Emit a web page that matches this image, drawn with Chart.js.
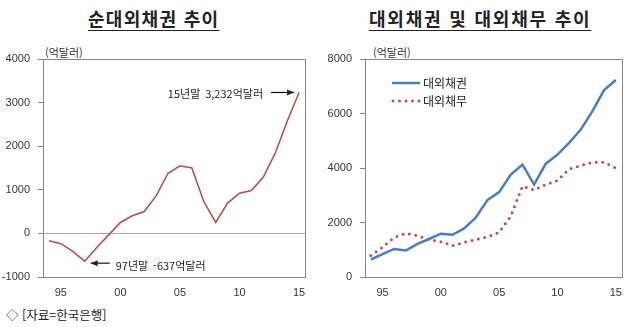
<!DOCTYPE html>
<html lang="ko">
<head>
<meta charset="utf-8">
<script src="https://cdn.jsdelivr.net/npm/chart.js@4"></script>
<style>
  body { margin: 0; width: 631px; height: 327px; background: #fff; position: relative; overflow: hidden;
         font-family: "Noto Sans CJK KR", "Noto Sans", sans-serif; color: #222; }
  .title { position: absolute; top: 5px; font-size: 18px; font-weight: bold; text-decoration: underline;
           text-underline-offset: 4px; text-decoration-thickness: 1px; letter-spacing: 1.3px; white-space: nowrap; }
  .unit { position: absolute; top: 44px; font-size: 11px; color: #333; }
  .box { position: absolute; top: 0; }
  #note { position: absolute; left: 6px; top: 305px; font-size: 12.5px; color: #222; }
</style>
</head>
<body>
<div class="title" style="left:88px;">순대외채권 추이</div>
<div class="title" style="left:369px; letter-spacing:1.8px;">대외채권 및 대외채무 추이</div>
<div class="unit" style="left:45px;">(억달러)</div>
<div class="unit" style="left:373px;">(억달러)</div>
<div class="box" style="left:0;"><canvas id="netChart" width="315" height="300"></canvas></div>
<div class="box" style="left:315px;"><canvas id="grossChart" width="316" height="300"></canvas></div>
<div id="note">◇ [자료=한국은행]</div>

<script>
// years 1994 ~ 2015
const years = ["94", "95", "96", "97", "98", "99", "00", "01", "02", "03", "04",
  "05", "06", "07", "08", "09", "10", "11", "12", "13", "14", "15"];
const xTickLabels = ["95", "00", "05", "10", "15"];

// 순대외채권 (억달러)
const netClaims = [-170, -235, -410, -637, -330, -40, 250, 405, 503, 860, 1380,
  1550, 1500, 733, 250, 695, 922, 985, 1290, 1840, 2567, 3232];

// 대외채권 / 대외채무 (억달러)
const claims = [642, 836, 1030, 970, 1212, 1394, 1588, 1551, 1782, 2182, 2824,
  3115, 3757, 4123, 3394, 4160, 4490, 4920, 5410, 6086, 6860, 7228];
const debt = [788, 1090, 1454, 1600, 1515, 1370, 1297, 1151, 1273, 1370, 1479,
  1636, 2242, 3333, 3188, 3394, 3539, 3960, 4086, 4208, 4208, 4000];

const tickFont = { family: "Liberation Sans, Arial, sans-serif", size: 11 };
const tickColor = "#333";
const axisGray = "#868686";

const boxPlugin = {
  id: "box",
  afterDraw(chart) {
    const { ctx, chartArea: a } = chart;
    ctx.save();
    ctx.strokeStyle = axisGray;
    ctx.lineWidth = 1;
    ctx.strokeRect(Math.round(a.left) + 0.5, Math.round(a.top) + 0.5,
      Math.round(a.right - a.left), Math.round(a.bottom - a.top));
    ctx.restore();
  }
};

function arrow(ctx, x1, y1, x2, y2) {
  ctx.beginPath();
  ctx.moveTo(x1, y1);
  ctx.lineTo(x2, y2);
  ctx.stroke();
  const ang = Math.atan2(y2 - y1, x2 - x1);
  ctx.beginPath();
  ctx.moveTo(x2, y2);
  ctx.lineTo(x2 - 7 * Math.cos(ang) + 3 * Math.sin(ang), y2 - 7 * Math.sin(ang) - 3 * Math.cos(ang));
  ctx.lineTo(x2 - 7 * Math.cos(ang) - 3 * Math.sin(ang), y2 - 7 * Math.sin(ang) + 3 * Math.cos(ang));
  ctx.closePath();
  ctx.fill();
}

const notePlugin = {
  id: "notes",
  afterDatasetsDraw(chart) {
    const { ctx, scales } = chart;
    const x = scales.x, y = scales.y;
    ctx.save();
    ctx.strokeStyle = "#111";
    ctx.fillStyle = "#222";
    ctx.lineWidth = 1.2;
    ctx.font = '11px "Noto Sans CJK KR", sans-serif';
    ctx.textBaseline = "middle";

    const last = netClaims.length - 1;
    const px = x.getPixelForValue(last), py = y.getPixelForValue(netClaims[last]);
    arrow(ctx, px - 28, py, px - 5, py);
    ctx.textAlign = "right";
    ctx.fillText("15년말  3,232억달러", px - 36, py + 1);

    const low = years.indexOf("97");
    const qx = x.getPixelForValue(low), qy = y.getPixelForValue(netClaims[low]);
    arrow(ctx, qx + 25, qy + 2, qx + 6, qy + 2);
    ctx.textAlign = "left";
    ctx.fillText("97년말  -637억달러", qx + 31, qy + 5);
    ctx.restore();
  }
};

const legendPlugin = {
  id: "customLegend",
  afterDraw(chart) {
    const { ctx, chartArea: a } = chart;
    const x0 = a.left + 27, x1 = a.left + 55;
    ctx.save();
    ctx.strokeStyle = "#4a7ebb";
    ctx.lineWidth = 2.5;
    ctx.beginPath();
    ctx.moveTo(x0, 83);
    ctx.lineTo(x1, 83);
    ctx.stroke();
    ctx.strokeStyle = "#c0504d";
    ctx.lineWidth = 3;
    ctx.lineCap = "round";
    ctx.setLineDash([0, 6.5]);
    ctx.beginPath();
    ctx.moveTo(x0 + 1, 101);
    ctx.lineTo(x1, 101);
    ctx.stroke();
    ctx.fillStyle = "#222";
    ctx.font = '12px "Noto Sans CJK KR", sans-serif';
    ctx.textBaseline = "middle";
    ctx.fillText("대외채권", x1 + 3, 83);
    ctx.fillText("대외채무", x1 + 3, 101);
    ctx.restore();
  }
};

function xScale() {
  return {
    offset: true,
    grid: { display: false, drawTicks: false },
    border: { display: false },
    ticks: {
      autoSkip: false, maxRotation: 0, padding: 9, color: tickColor, font: tickFont,
      callback(v, i) { return xTickLabels.includes(years[i]) ? years[i] : ""; }
    },
    afterFit(s) { s.height = 23; }
  };
}

function yScale(min, max, step, width, zeroLine) {
  return {
    min: min, max: max,
    ticks: { stepSize: step, padding: 8, color: tickColor, font: tickFont,
      callback: (v) => String(v) },
    grid: {
      color: (c) => (zeroLine && c.tick && c.tick.value === 0) ? "#a6a6a6" : "rgba(0,0,0,0)",
      tickColor: axisGray, tickLength: 5, lineWidth: 1
    },
    border: { display: false },
    afterFit(s) { s.width = width; }
  };
}

new Chart(document.getElementById("netChart"), {
  type: "line",
  data: {
    labels: years,
    datasets: [{
      data: netClaims, borderColor: "#b5524e", borderWidth: 1.6,
      pointRadius: 0, tension: 0, fill: false
    }]
  },
  options: {
    responsive: false, animation: false,
    layout: { padding: { top: 59, right: 10, left: 0, bottom: 0 } },
    plugins: { legend: { display: false }, tooltip: { enabled: false } },
    scales: { x: xScale(), y: yScale(-1000, 4000, 1000, 43, true) }
  },
  plugins: [boxPlugin, notePlugin]
});

new Chart(document.getElementById("grossChart"), {
  type: "line",
  data: {
    labels: years,
    datasets: [
      { label: "대외채권", data: claims, borderColor: "#4a7ebb", borderWidth: 2.5,
        pointRadius: 0, tension: 0, fill: false },
      { label: "대외채무", data: debt, borderColor: "#c0504d", borderWidth: 3,
        borderDash: [0, 6.5], borderCapStyle: "round",
        pointRadius: 0, tension: 0, fill: false }
    ]
  },
  options: {
    responsive: false, animation: false,
    layout: { padding: { top: 59, right: 5, left: 0, bottom: 0 } },
    plugins: { legend: { display: false }, tooltip: { enabled: false } },
    scales: { x: xScale(), y: yScale(0, 8000, 2000, 50, false) }
  },
  plugins: [boxPlugin, legendPlugin]
});
</script>
</body>
</html>
